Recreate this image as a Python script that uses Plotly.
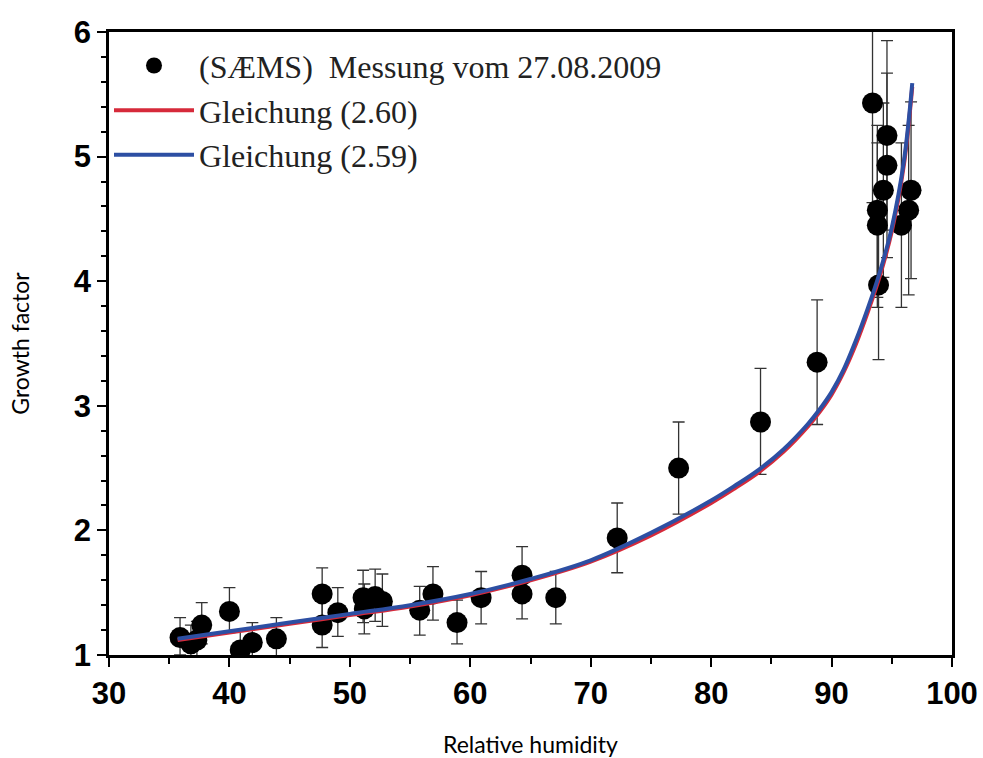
import plotly.graph_objects as go

# Measured data (SAEMS) - relative humidity (%), growth factor, error up/down
rh = [35.9, 36.8, 37.3, 37.7, 40.0, 40.9, 41.9, 43.9, 47.7, 47.7, 49.0, 51.1, 51.2, 52.1, 52.7,
      55.8, 56.9, 58.9, 60.9, 64.3, 64.3, 67.1, 72.2, 77.3, 84.1, 88.8,
      93.4, 94.6, 94.6, 94.3, 93.8, 93.8, 93.9, 96.6, 96.4, 95.8]
gf = [1.14, 1.09, 1.12, 1.24, 1.35, 1.04, 1.10, 1.13, 1.49, 1.24, 1.34, 1.46, 1.37, 1.47, 1.43,
      1.36, 1.49, 1.26, 1.46, 1.64, 1.49, 1.46, 1.94, 2.50, 2.87, 3.35,
      5.43, 5.17, 4.93, 4.73, 4.57, 4.45, 3.97, 4.73, 4.57, 4.45]
err_up = [0.16, 0.15, 0.15, 0.18, 0.19, 0.15, 0.16, 0.17, 0.21, 0.20, 0.20, 0.22, 0.20, 0.22, 0.22,
          0.19, 0.22, 0.18, 0.21, 0.23, 0.20, 0.21, 0.28, 0.37, 0.43, 0.50,
          0.65, 0.76, 0.74, 0.70, 0.68, 0.66, 0.60, 0.71, 0.68, 0.66]
err_down = [0.14, 0.13, 0.13, 0.15, 0.17, 0.15, 0.14, 0.15, 0.20, 0.18, 0.19, 0.20, 0.20, 0.20, 0.20,
            0.20, 0.21, 0.17, 0.21, 0.20, 0.20, 0.21, 0.28, 0.37, 0.42, 0.50,
            0.80, 0.76, 0.74, 0.70, 0.70, 0.66, 0.60, 0.71, 0.68, 0.66]

# Curves
curve_rh = [35.7, 40, 45, 50, 55, 60, 65, 70, 75, 80, 82, 84, 86, 88, 89, 90, 91, 92, 93, 94, 95, 96, 96.7]
curve_260 = [1.12, 1.18, 1.25, 1.32, 1.39, 1.48, 1.60, 1.75, 1.96, 2.22, 2.34, 2.47, 2.63, 2.83, 2.95, 3.09, 3.27, 3.49, 3.75, 4.04, 4.40, 4.93, 5.56]
curve_259 = [1.13, 1.19, 1.26, 1.33, 1.40, 1.49, 1.61, 1.76, 1.98, 2.24, 2.36, 2.49, 2.65, 2.85, 2.97, 3.11, 3.29, 3.52, 3.78, 4.07, 4.43, 4.96, 5.59]

x_ticks = [30, 40, 50, 60, 70, 80, 90, 100]
y_ticks = [1, 2, 3, 4, 5, 6]

fig = go.Figure()
fig.add_trace(go.Scatter(
    x=rh, y=gf, mode="markers", name="(SÆMS)  Messung vom 27.08.2009",
    marker=dict(color="black", size=21),
    error_y=dict(type="data", symmetric=False, array=err_up, arrayminus=err_down,
                 color="#333333", thickness=1.3, width=6),
))
fig.add_trace(go.Scatter(
    x=curve_rh, y=curve_260, mode="lines", name="Gleichung (2.60)",
    line=dict(color="#d62a3a", width=4, shape="spline", smoothing=1.0),
))
fig.add_trace(go.Scatter(
    x=curve_rh, y=curve_259, mode="lines", name="Gleichung (2.59)",
    line=dict(color="#2d4fa3", width=4, shape="spline", smoothing=1.0),
))

axis_common = dict(
    showline=True, linecolor="black", linewidth=2.5, mirror=True,
    ticks="outside", tickcolor="black", tickwidth=1.5, ticklen=9,
    showgrid=False, zeroline=False, automargin=False,
    tickfont=dict(family="Liberation Sans", size=31, color="black", weight="bold"),
)

fig.update_xaxes(
    range=[30, 100], tickvals=x_ticks, ticktext=[str(v) for v in x_ticks],
    minor=dict(ticks="outside", ticklen=6, tickcolor="black", tickwidth=1.5, dtick=5, tick0=30),
    title=dict(text="Relative humidity", font=dict(family="Lato", size=23, color="black"), standoff=28),
    **axis_common,
)
fig.update_yaxes(
    range=[1, 6], tickvals=y_ticks, ticktext=[str(v) for v in y_ticks],
    minor=dict(ticks="outside", ticklen=5, tickcolor="black", tickwidth=1.5, dtick=0.2, tick0=1),
    title=dict(text="Growth factor", font=dict(family="Lato", size=23, color="black"), standoff=38),
    **axis_common,
)

fig.update_layout(
    width=983, height=758,
    margin=dict(l=109, r=31, t=32, b=103),
    plot_bgcolor="white", paper_bgcolor="white",
    showlegend=True,
    legend=dict(x=0.0, y=0.99, xanchor="left", yanchor="top",
                bgcolor="rgba(0,0,0,0)", itemwidth=80, tracegroupgap=0,
                font=dict(family="Liberation Serif", size=32, color="#222222")),
)

fig.write_html("out.html")
